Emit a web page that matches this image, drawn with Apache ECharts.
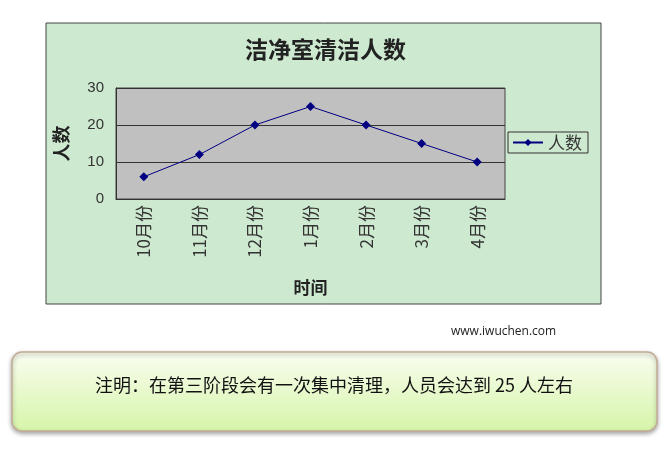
<!DOCTYPE html>
<html lang="zh">
<head>
  <meta charset="UTF-8">
  <script src="https://cdn.jsdelivr.net/npm/echarts@6/dist/echarts.min.js"></script>
  <title>洁净室清洁人数</title>
  <style>
    html, body { margin: 0; background: #fff; }
    #main { width: 669px; height: 454px; }
  </style>
</head>
<body>
  <div id="main"></div>
  <script>
    // data
    var months = ['10月份', '11月份', '12月份', '1月份', '2月份', '3月份', '4月份'];
    var people = [6, 12, 20, 25, 20, 15, 10];
    var yTicks = [0, 10, 20, 30];

    var cjk = '"Noto Sans CJK SC", sans-serif';
    var chart = echarts.init(document.getElementById('main'), null, { renderer: 'canvas' });

    var option = {
      animation: false,
      backgroundColor: '#fff',
      title: {
        text: '洁净室清洁人数',
        left: 240,
        top: 33,
        textStyle: { fontFamily: cjk, fontSize: 23, fontWeight: 'bold', color: '#222' }
      },
      legend: {
        data: ['人数'],
        left: 508,
        top: 132,
        orient: 'vertical',
        padding: [2, 6, 2, 4],
        itemWidth: 30,
        itemHeight: 9,
        itemGap: 0,
        borderColor: '#333',
        borderWidth: 1,
        textStyle: { fontFamily: cjk, fontSize: 17, color: '#333' }
      },
      grid: {
        left: 116,
        top: 88,
        width: 389,
        height: 111,
        show: true,
        backgroundColor: '#c0c0c0',
        borderColor: '#444',
        borderWidth: 1
      },
      xAxis: {
        type: 'category',
        data: months,
        boundaryGap: true,
        axisLine: { lineStyle: { color: '#333', width: 1 } },
        axisTick: { inside: true, length: 4, lineStyle: { color: '#333' } },
        axisLabel: { rotate: 90, margin: 6, fontFamily: cjk, fontSize: 17, color: '#333' },
        name: '时间',
        nameLocation: 'middle',
        nameGap: 80,
        nameTextStyle: { fontFamily: cjk, fontSize: 17, fontWeight: 'bold', color: '#222' }
      },
      yAxis: {
        type: 'value',
        min: yTicks[0],
        max: yTicks[yTicks.length - 1],
        interval: 10,
        axisLine: { show: true, lineStyle: { color: '#333' } },
        axisTick: { show: false },
        axisLabel: { margin: 12, fontFamily: '"Liberation Sans", sans-serif', fontSize: 15, color: '#333' },
        splitLine: { lineStyle: { color: '#333', width: 1 } },
        name: '人数',
        nameLocation: 'middle',
        nameRotate: 90,
        nameGap: 46,
        nameTextStyle: { fontFamily: cjk, fontSize: 18, fontWeight: 'bold', color: '#222' }
      },
      series: [{
        name: '人数',
        type: 'line',
        data: people,
        symbol: 'diamond',
        symbolSize: 9,
        lineStyle: { color: '#000080', width: 1 },
        itemStyle: { color: '#000080' }
      }],
      graphic: [
        {
          // chart frame
          type: 'rect',
          z: -10,
          shape: { x: 46, y: 23, width: 555, height: 281 },
          style: { fill: '#cde9cf', stroke: '#444', lineWidth: 1 }
        },
        {
          type: 'text',
          x: 451,
          y: 326,
          style: { text: 'www.iwuchen.com', fontFamily: '"Open Sans", sans-serif', fontSize: 12, fill: '#222' }
        },
        {
          // note box
          type: 'rect',
          shape: { x: 12, y: 352, width: 645, height: 79, r: 10 },
          style: {
            fill: new echarts.graphic.LinearGradient(0, 0, 0, 1, [
              { offset: 0, color: '#f9fdf0' },
              { offset: 1, color: '#d6f5a9' }
            ]),
            stroke: '#c2ad94',
            lineWidth: 1.5,
            shadowColor: 'rgba(0,0,0,0.35)',
            shadowBlur: 4,
            shadowOffsetY: 2
          }
        },
        {
          type: 'text',
          x: 334,
          y: 385,
          style: {
            text: '注明：在第三阶段会有一次集中清理，人员会达到 25 人左右',
            fontFamily: cjk,
            fontSize: 18,
            fill: '#111',
            textAlign: 'center',
            textVerticalAlign: 'middle'
          }
        }
      ]
    };

    chart.setOption(option);
    window.addEventListener('resize', chart.resize);
  </script>
</body>
</html>
